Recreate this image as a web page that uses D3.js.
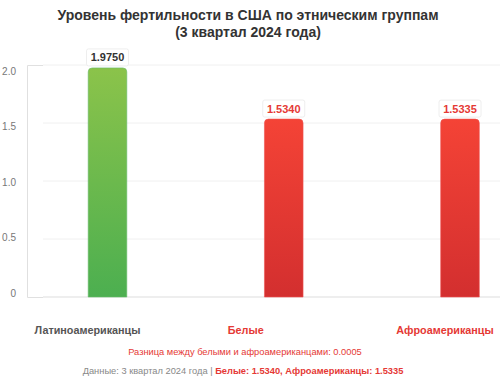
<!DOCTYPE html>
<html><head><meta charset="utf-8">
<script src="https://cdn.jsdelivr.net/npm/d3@7"></script>
<style>body{margin:0;background:#fff;font-family:"Liberation Sans",Arial,sans-serif}</style>
</head><body><svg id="c" width="500" height="384"></svg>
<script>
const categories = ["Латиноамериканцы", "Белые", "Афроамериканцы"];
const values = [1.975, 1.534, 1.5335];
const valueLabels = ["1.9750", "1.5340", "1.5335"];
const highlight = [false, true, true];
const yTicks = [0, 0.5, 1.0, 1.5, 2.0];
const yTickLabels = ["0", "0.5", "1.0", "1.5", "2.0"];
const titleLines = ["Уровень фертильности в США по этническим группам", "(3 квартал 2024 года)"];
const diffText = "Разница между белыми и афроамериканцами: 0.0005";
const footerPlain = "Данные: 3 квартал 2024 года | ";
const footerBold = "Белые: 1.5340, Афроамериканцы: 1.5335";

const svg = d3.select("#c");
const defs = svg.append("defs");
const gG = defs.append("linearGradient").attr("id","gGreen").attr("x1",0).attr("y1",0).attr("x2",0).attr("y2",1);
gG.append("stop").attr("offset","0%").attr("stop-color","#8bc34a");
gG.append("stop").attr("offset","100%").attr("stop-color","#4caf50");
const gR = defs.append("linearGradient").attr("id","gRed").attr("x1",0).attr("y1",0).attr("x2",0).attr("y2",1);
gR.append("stop").attr("offset","0%").attr("stop-color","#f44336");
gR.append("stop").attr("offset","100%").attr("stop-color","#d32f2f");

const x = d3.scalePoint().domain(categories).range([107.5, 460]);
const y = d3.scaleLinear().domain([0, 2]).range([297, 65]);
const yLab = d3.scaleLinear().domain([0, 2]).range([293, 71]);
const barW = 38.6;

// title
svg.append("text").attr("x",248).attr("y",20).attr("text-anchor","middle")
  .attr("font-size",14).attr("font-weight","bold").attr("fill","#333").text(titleLines[0]);
svg.append("text").attr("x",248).attr("y",37).attr("text-anchor","middle")
  .attr("font-size",14).attr("font-weight","bold").attr("fill","#333").text(titleLines[1]);

// gridlines
svg.append("g").selectAll("line").data(yTicks).join("line")
  .attr("x1",43).attr("x2",500).attr("y1",d=>y(d)).attr("y2",d=>y(d))
  .attr("stroke", d=>d===0?"#ddd":"#f0f0f0").attr("stroke-width",1);

// axis
const axis = d3.axisLeft(y).tickValues(yTicks).tickSize(0).tickSizeOuter(-16).tickFormat(()=> "");
const ag = svg.append("g").attr("transform","translate(27,0)").call(axis);
ag.select(".domain").attr("stroke","#e0e0e0");
svg.append("g").selectAll("text").data(yTicks).join("text")
  .attr("x",16).attr("y",d=>yLab(d)).attr("dy","0.35em").attr("text-anchor","end")
  .attr("font-size",10).attr("fill","#777").text((d,i)=>yTickLabels[i]);

// bars
const r = 4;
function barPath(cx, yt, yb, w){
  const x0 = cx - w/2, x1 = cx + w/2;
  return `M${x0},${yb}V${yt+r}Q${x0},${yt} ${x0+r},${yt}H${x1-r}Q${x1},${yt} ${x1},${yt+r}V${yb}Z`;
}
svg.append("g").selectAll("path").data(values).join("path")
  .attr("d",(d,i)=>barPath(x(categories[i]), y(d), y(0), barW))
  .attr("fill",(d,i)=>highlight[i]?"url(#gRed)":"url(#gGreen)")
  .attr("stroke",(d,i)=>highlight[i]?"#ef5350":"#66bb6a").attr("stroke-width",0.6);

// value labels
const lg = svg.append("g").selectAll("g").data(values).join("g")
  .attr("transform",(d,i)=>`translate(${x(categories[i])},${y(d)-10.5})`);
lg.append("rect").attr("x",-21).attr("y",-8.5).attr("width",42).attr("height",17).attr("rx",2)
  .attr("fill","#fff").attr("stroke","#eee");
lg.append("text").attr("text-anchor","middle").attr("dy","0.36em").attr("font-size",11)
  .attr("font-weight","bold").attr("fill",(d,i)=>highlight[i]?"#e53935":"#333").text((d,i)=>valueLabels[i]);

// category labels
const labelOffset = [-20, -38, -15];
svg.append("g").selectAll("text").data(categories).join("text")
  .attr("x",(d,i)=>x(d)+labelOffset[i]).attr("y",334).attr("text-anchor","middle")
  .attr("font-size",10.8).attr("font-weight","bold")
  .attr("fill",(d,i)=>highlight[i]?"#e53935":"#555").text(d=>d);

// footer
svg.append("text").attr("x",245).attr("y",355).attr("text-anchor","middle")
  .attr("font-size",9.3).attr("fill","#e53935").text(diffText);
const ft = svg.append("text").attr("x",243).attr("y",373.5).attr("text-anchor","middle").attr("font-size",9.3);
ft.append("tspan").attr("fill","#888").text(footerPlain);
ft.append("tspan").attr("fill","#e53935").attr("font-weight","bold").text(footerBold);
</script></body></html>
